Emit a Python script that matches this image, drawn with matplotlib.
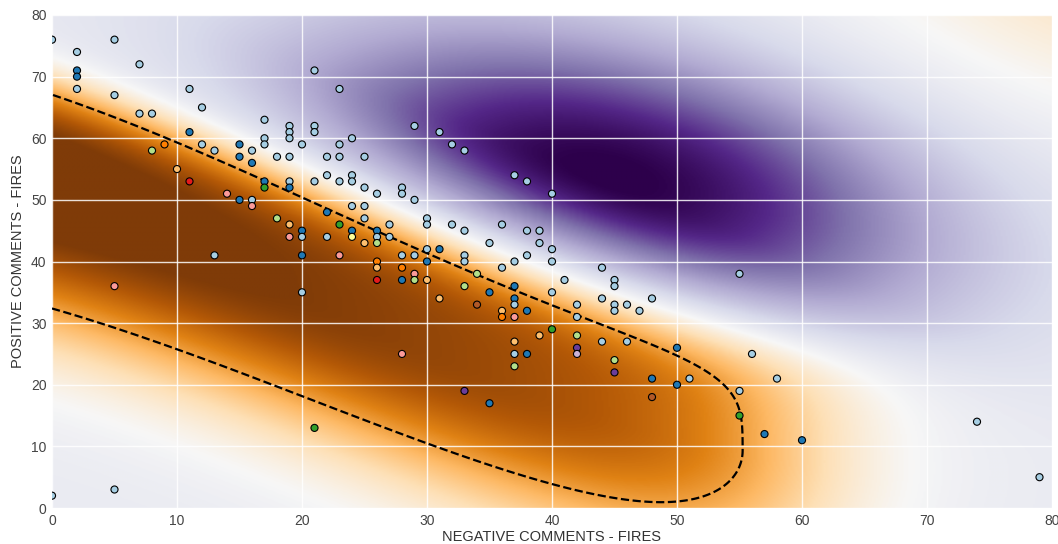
import numpy as np
import matplotlib
matplotlib.use("Agg")
import matplotlib.pyplot as plt

plt.rcParams['font.family'] = ['Liberation Sans', 'DejaVu Sans']

# comments per account (x = negative, y = positive) and cluster id (Paired colours)
neg_comments = [
    0, 2, 2, 2, 2, 5, 5, 7, 7, 8, 8, 9,
    10, 11, 11, 11, 12, 12, 13, 13, 14, 15, 15, 15,
    16, 16, 16, 16, 17, 17, 17, 17, 17, 18, 18, 19,
    19, 19, 19, 19, 19, 19, 19, 20, 20, 20, 20, 20,
    21, 21, 21, 21, 21, 22, 22, 22, 22, 23, 23, 23,
    23, 23, 23, 24, 24, 24, 24, 24, 24, 25, 25, 25,
    25, 25, 26, 26, 26, 26, 26, 26, 26, 27, 27, 28,
    28, 28, 28, 28, 28, 29, 29, 29, 29, 29, 30, 30,
    30, 30, 30, 31, 31, 31, 32, 32, 33, 33, 33, 33,
    33, 33, 34, 34, 35, 35, 35, 36, 36, 36, 36, 37,
    37, 37, 37, 37, 37, 37, 37, 37, 38, 38, 38, 38,
    38, 39, 39, 39, 40, 40, 40, 40, 40, 41, 42, 42,
    42, 42, 42, 44, 44, 44, 45, 45, 45, 45, 45, 45,
    46, 46, 47, 48, 48, 48, 50, 50, 51, 55, 55, 55,
    56, 57, 58, 60, 74, 79, 0, 5, 5,
]
pos_comments = [
    76, 74, 71, 70, 68, 76, 67, 72, 64, 64, 58, 59,
    55, 68, 61, 53, 65, 59, 58, 41, 51, 59, 57, 50,
    58, 56, 50, 49, 63, 60, 59, 53, 52, 57, 47, 62,
    61, 60, 57, 53, 52, 46, 44, 59, 45, 44, 41, 35,
    71, 62, 61, 53, 13, 57, 54, 48, 44, 68, 59, 57,
    53, 46, 41, 60, 54, 53, 49, 45, 44, 57, 52, 49,
    47, 43, 51, 45, 44, 43, 40, 39, 37, 46, 44, 52,
    51, 41, 39, 37, 25, 62, 50, 41, 38, 37, 47, 46,
    42, 40, 37, 61, 42, 34, 59, 46, 58, 45, 41, 40,
    36, 19, 38, 33, 43, 35, 17, 46, 39, 32, 31, 54,
    40, 36, 34, 33, 31, 27, 25, 23, 53, 45, 41, 32,
    25, 45, 43, 28, 51, 42, 40, 35, 29, 37, 33, 31,
    28, 26, 25, 39, 34, 27, 37, 36, 33, 32, 24, 22,
    33, 27, 32, 34, 21, 18, 26, 20, 21, 38, 19, 15,
    25, 12, 21, 11, 14, 5, 2, 3, 36,
]
cluster = [
    0, 0, 1, 1, 0, 0, 0, 0, 0, 0, 2, 7,
    6, 0, 1, 5, 0, 0, 0, 0, 4, 1, 1, 1,
    0, 1, 0, 4, 0, 0, 0, 1, 3, 0, 2, 0,
    0, 0, 0, 0, 1, 6, 4, 0, 1, 0, 1, 0,
    0, 0, 0, 0, 3, 0, 0, 1, 0, 0, 0, 0,
    0, 3, 4, 0, 0, 0, 0, 1, 10, 0, 0, 0,
    0, 6, 0, 1, 0, 2, 7, 6, 5, 0, 0, 0,
    0, 0, 7, 1, 4, 0, 0, 0, 4, 2, 0, 0,
    0, 1, 6, 0, 1, 6, 0, 0, 0, 0, 0, 0,
    2, 9, 2, 11, 0, 1, 1, 0, 0, 6, 7, 0,
    0, 1, 1, 0, 4, 6, 0, 2, 0, 0, 0, 1,
    1, 0, 0, 6, 0, 0, 0, 0, 3, 0, 0, 0,
    2, 9, 8, 0, 0, 0, 0, 0, 0, 0, 2, 9,
    0, 0, 0, 0, 1, 11, 1, 1, 0, 0, 0, 3,
    0, 1, 0, 1, 0, 0, 0, 0, 4,
]

# decision surface
band_knots_x = [0, 10, 20, 30, 40, 50, 60, 70]
band_knots_y = [49.5, 43.5, 34.5, 25.5, 17, 12, 9, 7]
purple_center = (44.5, 54.0)
purple_sigma = (20.0, 7.5, 13.0)   # along ridge, below ridge, above ridge

xs = np.linspace(0, 80, 600)
xx, yy = np.meshgrid(xs, xs)

# orange band: sharper edge on the upper side
coef = np.polyfit(band_knots_x, band_knots_y, 3)
dy = yy - np.polyval(coef, xx)
amp = (1.30 - 0.007 * xx) / (1 + np.exp((xx - 59.0) / 5.0))
lower = np.exp(-dy ** 2 / (2 * 14.45 ** 2))
upper = np.exp(-(dy / 18.5) ** 4)
Z = -0.12 + amp * np.where(dy < 0, lower, upper)

# purple ridge parallel to the band
theta = np.deg2rad(-39.4)
du = (xx - purple_center[0]) * np.cos(theta) + (yy - purple_center[1]) * np.sin(theta)
dv = -(xx - purple_center[0]) * np.sin(theta) + (yy - purple_center[1]) * np.cos(theta)
s_across = np.where(dv < 0, purple_sigma[1], purple_sigma[2])
Z -= 1.0 * np.exp(-du ** 2 / (2 * purple_sigma[0] ** 2) - dv ** 2 / (2 * s_across ** 2))
# faint warm corner top right
Z += 0.35 * np.exp(-((xx - 92) ** 2 + (yy - 92) ** 2) / (2 * 18 ** 2))

fig = plt.figure(figsize=(10.58, 5.44), dpi=100)
ax = fig.add_axes([52 / 1058, 36 / 544, 1000 / 1058, 493 / 544])

ax.imshow(Z, extent=(0, 80, 0, 80), origin='lower', aspect='auto',
          cmap='PuOr_r', vmin=-1.1, vmax=1.05, interpolation='bilinear')
ax.contour(xx, yy, Z, levels=[0.5], colors='k', linewidths=1.6,
           linestyles='dashed')
ax.scatter(neg_comments, pos_comments, c=cluster, cmap='Paired',
           vmin=-0.5, vmax=11.5, s=26, edgecolors='k', linewidths=0.8,
           zorder=3)

ax.set_xlim(0, 80)
ax.set_ylim(0, 80)
ax.set_xticks(range(0, 81, 10))
ax.set_yticks(range(0, 81, 10))
ax.set_axisbelow(True)
ax.grid(True, color='white', linewidth=1.0, alpha=0.85)
for s in ax.spines.values():
    s.set_visible(False)
ax.tick_params(length=0, labelsize=10, labelcolor='#444444', pad=4)
ax.set_xlabel('NEGATIVE COMMENTS - FIRES', fontsize=10.5, color='#333333', labelpad=2)
ax.set_ylabel('POSITIVE COMMENTS - FIRES', fontsize=10.5, color='#333333', labelpad=4)

fig.savefig('out.png', dpi=100, facecolor='white')
